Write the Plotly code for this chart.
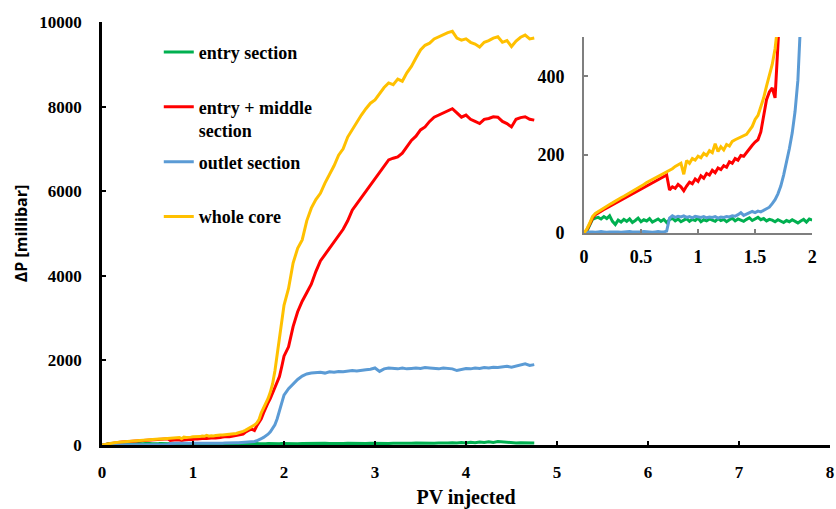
import numpy as np
import plotly.graph_objects as go

# ---------------- data ----------------
# fine sampling 0 .. 2 PV (step 0.025) – also used for the inset
pv_fine = np.round(np.arange(0, 81) * 0.025, 3)
entry_fine = [0, 5, 20, 35, 38, 40, 36, 42, 37, 44, 30, 22, 33, 28, 35, 30, 36, 27, 32, 38,
              29, 34, 31, 37, 28, 33, 36, 30, 35, 27, 34, 38, 31, 36, 29, 33, 37, 30, 35, 32,
              38, 29, 34, 31, 36, 33, 30, 37, 32, 35, 29, 34, 38, 31, 36, 33, 30, 35, 39, 32,
              36, 40, 34, 37, 31, 35, 33, 29, 34, 31, 27, 32, 29, 34, 30, 26, 31, 35, 28, 36, 33]
entry_middle_fine = [0, 8, 22, 38, 47, 52, 56, 60, 64, 68, 72, 76, 80, 84, 88, 92, 96, 100, 104, 108,
                     112, 116, 120, 124, 128, 132, 136, 140, 144, 148, 110, 118, 114, 124, 118, 108, 120, 130, 126, 138,
                     132, 146, 140, 152, 148, 160, 154, 166, 162, 172, 168, 182, 178, 190, 186, 198, 196, 206, 215, 224,
                     232, 238, 258, 300, 340, 360, 370, 345, 450, 530, 620, 760, 900, 1000, 1100, 1220, 1350, 1480, 1620, 1850, 2100]
outlet_fine = [0, 2, 3, 3, 2, 3, 4, 3, 2, 3, 3, 4, 3, 2, 3, 3, 4, 3, 3, 2,
               3, 4, 3, 3, 2, 3, 4, 3, 3, 5, 38, 44, 40, 43, 41, 44, 40, 42, 39, 43,
               41, 40, 42, 39, 41, 40, 42, 38, 41, 40, 42, 41, 44, 43, 47, 52, 45, 48, 50, 55,
               52, 56, 54, 58, 62, 66, 75, 85, 100, 120, 148, 180, 215, 255, 310, 390, 480, 620, 800, 1000, 1180]
whole_core_fine = [0, 10, 25, 42, 50, 55, 60, 63, 68, 73, 77, 82, 86, 90, 94, 98, 103, 107, 112, 116,
                   120, 124, 129, 133, 137, 141, 144, 149, 152, 156, 159, 164, 170, 174, 178, 150, 185, 178, 190, 186,
                   196, 192, 203, 198, 210, 205, 228, 208, 220, 212, 226, 222, 234, 238, 241, 246, 249, 252, 262, 272,
                   290, 300, 322, 345, 375, 400, 430, 470, 520, 600, 760, 870, 980, 1100, 1250, 1450, 1750, 2150, 2600, 3000, 3300]

# coarse sampling 2.05 .. 4.75 PV (step 0.05)
pv_coarse = np.round(2.05 + np.arange(0, 55) * 0.05, 3)
entry_coarse = [35, 38, 32, 36, 40, 34, 38, 35, 41, 37, 33, 39, 36, 42, 38, 35, 40, 37, 43, 39,
                36, 41, 38, 44, 40, 37, 42, 39, 45, 41, 38, 44, 40, 46, 42, 48, 55, 45, 60, 50,
                65, 55, 70, 60, 75, 62, 80, 68, 72, 58, 50, 55, 48, 52, 50]
entry_middle_coarse = [2320, 2800, 3150, 3400, 3600, 3800, 4100, 4350, 4500, 4650, 4800, 4920, 5100, 5300, 5550, 5700, 5850, 6000, 6150, 6300,
                       6450, 6600, 6740, 6780, 6810, 6900, 7050, 7200, 7300, 7450, 7520, 7650, 7750, 7800, 7850, 7900, 7950, 7850, 7750, 7800,
                       7700, 7650, 7600, 7700, 7720, 7760, 7750, 7650, 7600, 7520, 7700, 7740, 7760, 7700, 7680]
outlet_coarse = [1330, 1450, 1550, 1630, 1680, 1700, 1710, 1720, 1700, 1730, 1720, 1740, 1730, 1750, 1760, 1750, 1770, 1780, 1790, 1820,
                 1740, 1800, 1820, 1810, 1800, 1820, 1800, 1810, 1820, 1810, 1830, 1820, 1810, 1800, 1820, 1810, 1800, 1760, 1790, 1810,
                 1800, 1820, 1810, 1830, 1820, 1840, 1830, 1850, 1860, 1840, 1870, 1900, 1920, 1880, 1900]
whole_core_coarse = [3700, 4300, 4650, 4850, 5300, 5600, 5800, 5950, 6190, 6380, 6600, 6850, 7000, 7280, 7450, 7650, 7800, 7950, 8080, 8160,
                     8300, 8450, 8560, 8520, 8650, 8600, 8800, 8950, 9150, 9340, 9450, 9500, 9600, 9650, 9700, 9750, 9780, 9620, 9570, 9600,
                     9520, 9480, 9410, 9520, 9560, 9620, 9650, 9520, 9560, 9420, 9550, 9640, 9690, 9600, 9620]

series_names = ["entry section", "entry + middle<br>section", "outlet section", "whole core"]
series_colors = ["#00B050", "#FF0000", "#5B9BD5", "#FFC000"]
fine_vals = [entry_fine, entry_middle_fine, outlet_fine, whole_core_fine]
coarse_vals = [entry_coarse, entry_middle_coarse, outlet_coarse, whole_core_coarse]

x_ticks_main = [0, 1, 2, 3, 4, 5, 6, 7, 8]
y_ticks_main = [0, 2000, 4000, 6000, 8000, 10000]
x_ticks_inset = [0, 0.5, 1, 1.5, 2]
y_ticks_inset = [0, 200, 400]

# ---------------- figure ----------------
SERIF = "Liberation Serif, Times New Roman, serif"
fig = go.Figure()

pv_all = np.concatenate([pv_fine, pv_coarse])
for name, col, fv, cv in zip(series_names, series_colors, fine_vals, coarse_vals):
    legend_text = name if "<br>" in name else name + "<br> "
    fig.add_trace(go.Scatter(
        x=pv_all, y=list(fv) + list(cv), mode="lines", name=legend_text,
        legendgroup=name, line=dict(color=col, width=3),
        xaxis="x", yaxis="y"))

for name, col, fv in zip(series_names, series_colors, fine_vals):
    fig.add_trace(go.Scatter(
        x=pv_fine, y=fv, mode="lines", showlegend=False, legendgroup=name,
        line=dict(color=col, width=3), xaxis="x2", yaxis="y2", cliponaxis=True))

fig.update_layout(
    width=836, height=509,
    margin=dict(l=102, r=1, t=22, b=64),
    paper_bgcolor="white", plot_bgcolor="rgba(0,0,0,0)",
    font=dict(family=SERIF, size=17, color="black", weight="bold"),
    showlegend=True,
    legend=dict(
        x=0.078, y=0.972, xanchor="left", yanchor="top",
        bgcolor="rgba(0,0,0,0)", font=dict(family=SERIF, size=18, color="black", weight="bold"),
        traceorder="grouped", tracegroupgap=5, valign="top",
    ),
    xaxis=dict(
        domain=[0, 1], range=[0, 8], tickvals=x_ticks_main,
        showgrid=False, zeroline=False,
        showline=True, linecolor="black", linewidth=2.5,
        ticks="inside", ticklen=4, tickwidth=2, tickcolor="black",
        ticklabelstandoff=10,
        tickfont=dict(family=SERIF, size=17, color="black", weight="bold"),
        title=dict(text="PV injected", standoff=12,
                   font=dict(family=SERIF, size=20, color="black", weight="bold")),
    ),
    yaxis=dict(
        domain=[0, 1], range=[0, 10000], tickvals=y_ticks_main, tickformat="d",
        showgrid=False, zeroline=False,
        showline=True, linecolor="black", linewidth=2.5,
        ticks="inside", ticklen=4, tickwidth=2, tickcolor="black",
        ticklabelstandoff=14,
        tickfont=dict(family=SERIF, size=17, color="black", weight="bold"),
        title=dict(text="ΔP [millibar]", standoff=8,
                   font=dict(family="Open Sans, Arial, sans-serif", size=16, color="black", weight="bold")),
    ),
    xaxis2=dict(
        domain=[0.662, 0.9755], anchor="y2", range=[0, 2], tickvals=x_ticks_inset,
        showgrid=False, zeroline=False,
        showline=True, linecolor="#7F7F7F", linewidth=1.5,
        ticks="inside", ticklen=4, tickwidth=1.5, tickcolor="#7F7F7F",
        ticklabelstandoff=7,
        tickfont=dict(family=SERIF, size=18, color="black", weight="bold"),
    ),
    yaxis2=dict(
        domain=[0.501, 0.9645], anchor="x2", range=[0, 500], tickvals=y_ticks_inset,
        showgrid=False, zeroline=False,
        showline=True, linecolor="#7F7F7F", linewidth=1.5,
        ticks="inside", ticklen=4, tickwidth=1.5, tickcolor="#7F7F7F",
        ticklabelstandoff=14,
        tickfont=dict(family=SERIF, size=18, color="black", weight="bold"),
    ),
)

fig.write_html("out.html")
